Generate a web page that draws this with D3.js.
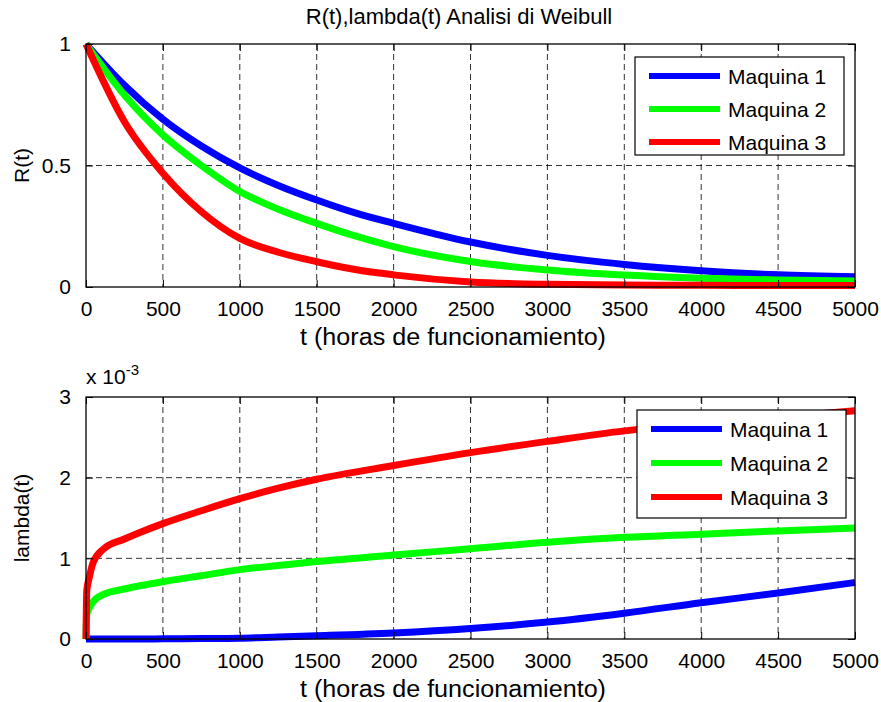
<!DOCTYPE html>
<html><head><meta charset="utf-8">
<script src="https://cdn.jsdelivr.net/npm/d3@7"></script>
<style>body{margin:0;background:#fff}svg{display:block}text{font-family:"Liberation Sans",Arial,sans-serif;fill:#000}</style>
</head><body>
<script>
const tR = [0, 250, 500, 750, 1000, 1250, 1500, 1750, 2000, 2500, 3000, 3500, 4000, 4500, 5000];
const R1 = [1, 0.83, 0.69, 0.58, 0.49, 0.418, 0.358, 0.305, 0.262, 0.185, 0.13, 0.093, 0.067, 0.05, 0.042];
const R2 = [1, 0.79, 0.626, 0.50, 0.393, 0.32, 0.262, 0.21, 0.166, 0.105, 0.07, 0.049, 0.036, 0.029, 0.025];
const R3 = [1, 0.68, 0.468, 0.31, 0.2, 0.143, 0.104, 0.072, 0.05, 0.021, 0.011, 0.008, 0.007, 0.006, 0.006];

const tL = [0, 5, 20, 45, 110, 250, 350, 500, 750, 1000, 1250, 1500, 2000, 2500, 3000, 3500, 4000, 4500, 5000];
const L1 = [0, 0, 0, 0, 0, 0, 0, 0.002, 0.005, 0.01, 0.025, 0.04, 0.075, 0.13, 0.21, 0.32, 0.45, 0.57, 0.7];
const L2 = [0, 0.3, 0.38, 0.46, 0.55, 0.62, 0.66, 0.71, 0.785, 0.86, 0.91, 0.96, 1.04, 1.12, 1.2, 1.26, 1.3, 1.34, 1.375];
const L3 = [0, 0.6, 0.75, 0.94, 1.11, 1.24, 1.32, 1.43, 1.59, 1.74, 1.87, 1.98, 2.15, 2.31, 2.45, 2.58, 2.67, 2.75, 2.83];

const seriesNames = ["Maquina 1", "Maquina 2", "Maquina 3"];
const colors = ["#0000ff", "#00ff00", "#ff0000"];
const xTicks = [0, 500, 1000, 1500, 2000, 2500, 3000, 3500, 4000, 4500, 5000];
const yTicksR = [0, 0.5, 1];
const yTicksL = [0, 1, 2, 3];
const title = "R(t),lambda(t) Analisi di Weibull";
const xLabel = "t (horas de funcionamiento)";

const W = 881, H = 702, FS = 21;
const svg = d3.select("body").append("svg").attr("width", W).attr("height", H);

function panel(cfg) {
  const x = d3.scaleLinear().domain([0, 5000]).range([86, 855]);
  const y = d3.scaleLinear().domain(cfg.ydom).range([cfg.bottom, cfg.top]);
  const g = svg.append("g");
  // grid
  g.append("g").selectAll("line").data(xTicks.slice(1, -1)).join("line")
    .attr("x1", d => x(d)).attr("x2", d => x(d)).attr("y1", cfg.top).attr("y2", cfg.bottom)
    .attr("stroke", "#000").attr("stroke-width", 1).attr("stroke-dasharray", "6,4").attr("opacity", 0.8);
  g.append("g").selectAll("line").data(cfg.yticks.slice(1, -1)).join("line")
    .attr("y1", d => y(d)).attr("y2", d => y(d)).attr("x1", 86).attr("x2", 855)
    .attr("stroke", "#000").attr("stroke-width", 1).attr("stroke-dasharray", "6,4").attr("opacity", 0.8);
  // lines
  const line = d3.line().x(d => x(d[0])).y(d => y(d[1])).curve(d3.curveMonotoneX);
  cfg.series.forEach((s, i) => {
    g.append("path").datum(cfg.t.map((t, k) => [t, s[k]]))
      .attr("d", line).attr("fill", "none").attr("stroke", colors[i])
      .attr("stroke-width", 7).attr("stroke-linejoin", "miter").attr("stroke-linecap", "butt");
  });
  // axes with inward ticks
  const ax = g.append("g");
  ax.append("g").attr("transform", `translate(0,${cfg.bottom})`)
    .call(d3.axisBottom(x).tickValues(xTicks).tickSizeInner(-7).tickSizeOuter(0).tickPadding(14).tickFormat(d3.format("d")));
  ax.append("g").attr("transform", `translate(0,${cfg.top})`)
    .call(d3.axisTop(x).tickValues(xTicks).tickSizeInner(-7).tickSizeOuter(0).tickFormat(""));
  ax.append("g").attr("transform", `translate(86,0)`)
    .call(d3.axisLeft(y).tickValues(cfg.yticks).tickSizeInner(-7).tickSizeOuter(0).tickPadding(15).tickFormat(cfg.fmt));
  ax.append("g").attr("transform", `translate(855,0)`)
    .call(d3.axisRight(y).tickValues(cfg.yticks).tickSizeInner(-7).tickSizeOuter(0).tickFormat(""));
  ax.selectAll(".domain").remove();
  ax.selectAll("line").attr("stroke", "#000");
  ax.selectAll("text").attr("font-size", FS).attr("font-family", '"Liberation Sans",Arial,sans-serif');
  g.append("rect").attr("x", 86).attr("y", cfg.top).attr("width", 769).attr("height", cfg.bottom - cfg.top)
    .attr("fill", "none").attr("stroke", "#000").attr("stroke-width", 1.3);
  // labels
  g.append("text").attr("x", 453).attr("y", cfg.bottom + 58).attr("text-anchor", "middle")
    .attr("font-size", 23).attr("textLength", 306).attr("lengthAdjust", "spacingAndGlyphs").text(xLabel);
  g.append("text").attr("transform", `translate(29,${(cfg.top + cfg.bottom) / 2}) rotate(-90)`)
    .attr("text-anchor", "middle").attr("font-size", FS).text(cfg.ylabel);
  // legend
  const lg = g.append("g");
  lg.append("rect").attr("x", cfg.lx).attr("y", cfg.ly).attr("width", 209).attr("height", cfg.lh)
    .attr("fill", "#fff").attr("stroke", "#000").attr("stroke-width", 1.2);
  seriesNames.forEach((n, i) => {
    const yy = cfg.ly + cfg.l0 + i * cfg.ls;
    lg.append("line").attr("x1", cfg.lx + 14).attr("x2", cfg.lx + 85).attr("y1", yy).attr("y2", yy)
      .attr("stroke", colors[i]).attr("stroke-width", 6);
    lg.append("text").attr("x", cfg.lx + 93).attr("y", yy + 7.5).attr("font-size", FS).text(n);
  });
  return {x, y};
}

panel({id: "a", top: 44, bottom: 287, ydom: [0, 1], yticks: yTicksR, fmt: d3.format("~g"),
  t: tR, series: [R1, R2, R3], ylabel: "R(t)", lx: 635, ly: 57, lh: 98, l0: 19, ls: 33});
panel({id: "b", top: 397, bottom: 639, ydom: [0, 3], yticks: yTicksL, fmt: d3.format("d"),
  t: tL, series: [L1, L2, L3], ylabel: "lambda(t)", lx: 637, ly: 410, lh: 108, l0: 19, ls: 34});

svg.append("text").attr("x", 459).attr("y", 24).attr("text-anchor", "middle").attr("font-size", 22)
  .text(title);
const ex = svg.append("text").attr("x", 86).attr("y", 384).attr("font-size", FS);
ex.append("tspan").text("x 10");
ex.append("tspan").attr("dy", -9).attr("font-size", 15).text("-3");
</script>
</body></html>
